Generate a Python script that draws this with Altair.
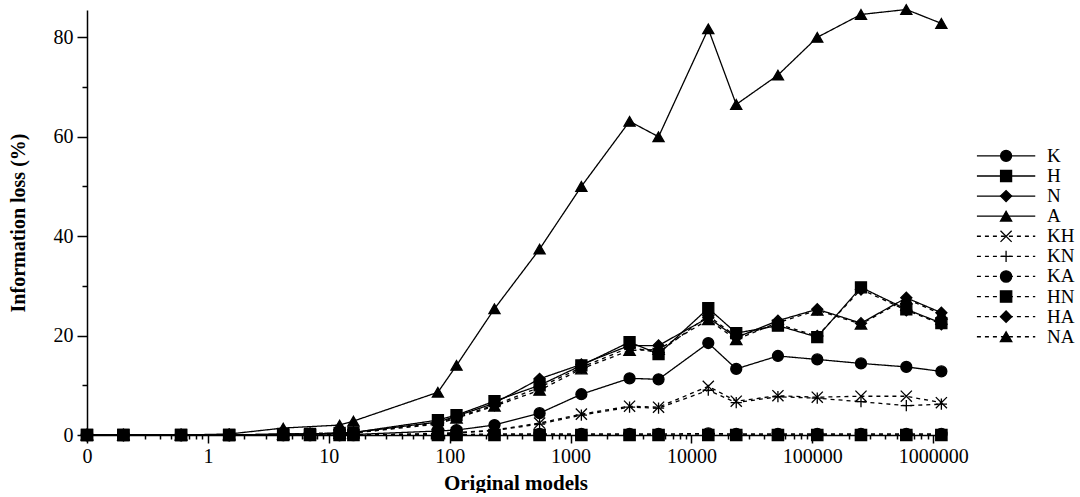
import altair as alt
import pandas as pd

# x positions (number of original models); first point is plotted at the "0" tick
models = [0.1, 0.2, 0.6, 1.5, 4.2, 7, 12.3, 16, 80, 114, 235, 555, 1230, 3080,
          5350, 13800, 23500, 52000, 110000, 253000, 600000, 1170000]

loss_K = [0, 0, 0, 0, 0, 0, 0, 0.1, 0.8, 1.0, 2.0, 4.4, 8.2, 11.4, 11.2, 18.5,
          13.3, 15.9, 15.2, 14.4, 13.7, 12.8]
loss_H = [0, 0, 0, 0, 0.2, 0.2, 0.4, 0.5, 3.0, 4.0, 6.8, 10.0, 14.0, 18.7, 16.3,
          25.5, 20.5, 22.0, 19.7, 29.7, 25.3, 22.5]
loss_N = [0, 0, 0, 0, 0.2, 0.2, 0.4, 0.5, 2.6, 3.8, 6.4, 11.3, 14.2, 18.0, 18.0,
          23.6, 19.6, 23.0, 25.3, 22.5, 27.6, 24.6]
loss_A = [0, 0, 0, 0.2, 1.4, None, 2.0, 2.8, 8.6, 14.0, 25.4, 37.4, 50.0, 63.1,
          60.0, 81.7, 66.5, 72.4, 80.0, 84.6, 85.6, 82.8]
loss_KH = [0, 0, 0, 0, 0, 0, 0, 0, 0.3, 0.5, 1.0, 2.4, 4.2, 5.8, 5.6, 9.8, 6.8,
           7.9, 7.6, 7.8, 7.8, 6.5]
loss_KN = [0, 0, 0, 0, 0, 0, 0, 0, 0.2, 0.4, 0.9, 2.2, 4.0, 5.6, 5.4, 9.0, 6.5,
           7.7, 7.4, 6.7, 5.9, 6.2]
loss_KA = [0, 0, 0, 0, 0, 0, 0, 0, 0.1, 0.1, 0.2, 0.2, 0.2, 0.2, 0.2, 0.3, 0.2,
           0.2, 0.2, 0.2, 0.2, 0.2]
loss_HN = [0, 0, 0, 0, 0, 0, 0, 0, 0, 0, 0, 0, 0, 0, 0, 0, 0, 0, 0, 0, 0, 0]
loss_HA = [0, 0, 0, 0, 0.1, 0.2, 0.3, 0.4, 2.4, 3.6, 6.0, 9.6, 13.6, 17.6, 16.6,
           24.0, 19.8, 22.3, 19.9, 29.3, 25.1, 22.3]
loss_NA = [0, 0, 0, 0, 0.1, 0.4, 0.3, 0.4, 2.2, 3.4, 5.8, 9.0, 13.3, 17.0, 17.2,
           23.2, 19.2, 22.6, 25.1, 22.3, 27.4, 24.3]

series_names = ["K", "H", "N", "A", "KH", "KN", "KA", "HN", "HA", "NA"]
series_values = [loss_K, loss_H, loss_N, loss_A, loss_KH, loss_KN, loss_KA,
                 loss_HN, loss_HA, loss_NA]

x_major = [0.1, 1, 10, 100, 1000, 10000, 100000, 1000000]
x_major_labels = ["0", "1", "10", "100", "1000", "10000", "100000", "1000000"]
y_ticks = [0, 10, 20, 30, 40, 50, 60, 70, 80]

X_PATH = "M-1,-1L1,1M-1,1L1,-1"
PLUS_PATH = "M-1,0L1,0M0,-1L0,1"
shapes = ["circle", "square", "diamond", "triangle-up", X_PATH, PLUS_PATH,
          "circle", "square", "diamond", "triangle-up"]
sizes = [120, 130, 130, 160, 100, 130, 120, 130, 130, 160]
leg_sizes = [80, 60, 60, 80, 60, 70, 80, 60, 60, 80]
dashes = [[1, 0]] * 4 + [[4, 4]] * 6

rows = []
for name, vals in zip(series_names, series_values):
    for m, v in zip(models, vals):
        if v is not None:
            rows.append({"series": name, "models": m, "loss": v})
df = pd.DataFrame(rows)

FONT = "Liberation Serif"

# x tick values: majors plus 2..9 minors
x_ticks = []
for d in range(-1, 7):
    for k in range(1, 10):
        v = float(f"{k}e{d}")
        if v <= 1.23e6:
            x_ticks.append(v)

major_test = "indexof([" + ",".join(repr(float(v)) for v in x_major) + "], datum.value) >= 0"
label_map = " : ".join(
    f"datum.value == {repr(float(v))} ? '{lab}'" for v, lab in zip(x_major, x_major_labels)
) + " : ''"

x_enc = alt.X(
    "models:Q",
    scale=alt.Scale(type="log", domain=[0.1, 1.23e6], nice=False),
    axis=alt.Axis(
        values=x_ticks,
        labelExpr=label_map,
        tickSize={"condition": {"test": major_test, "value": 8}, "value": 4},
        title="Original models",
        titleFontWeight="bold",
        titleFontSize=21,
        titlePadding=6,
        labelFontSize=20,
        labelPadding=3,
        labelFlush=False,
        labelOverlap=False,
        grid=False,
    ),
)
y_enc = alt.Y(
    "loss:Q",
    scale=alt.Scale(domain=[0, 85.5], nice=False),
    axis=alt.Axis(
        values=y_ticks,
        labelExpr="datum.value % 20 == 0 ? datum.label : ''",
        tickSize={"condition": {"test": "datum.value % 20 == 0", "value": 10}, "value": 5},
        title="Information loss (%)",
        titleFontWeight="bold",
        titleFontSize=20,
        titlePadding=25,
        labelFontSize=20,
        labelPadding=4,
        labelFlush=False,
        grid=False,
    ),
)

lines = alt.Chart(df).mark_line(color="black", strokeWidth=1.3).encode(
    x=x_enc,
    y=y_enc,
    detail="series:N",
    strokeDash=alt.StrokeDash("series:N", scale=alt.Scale(domain=series_names, range=dashes), legend=None),
)
points = alt.Chart(df).mark_point(filled=True, fill="black", stroke="black", strokeWidth=1.3, opacity=1).encode(
    x=x_enc,
    y=y_enc,
    shape=alt.Shape("series:N", scale=alt.Scale(domain=series_names, range=shapes), legend=None),
    size=alt.Size("series:N", scale=alt.Scale(domain=series_names, range=sizes), legend=None),
)
main = alt.layer(lines, points).properties(width=857, height=425)

# legend built as a small chart
leg_df = pd.DataFrame({
    "series": series_names,
    "idx": list(range(len(series_names))),
    "x0": [0.0] * len(series_names),
    "x1": [1.0] * len(series_names),
    "xm": [0.5] * len(series_names),
    "xl": [1.2] * len(series_names),
})
lx = alt.Scale(domain=[-0.05, 1.75], nice=False)
ly = alt.Scale(domain=[-7.26, 13.89], nice=False, reverse=True)
leg_base = alt.Chart(leg_df)
leg_rule = leg_base.mark_rule(color="black", strokeWidth=1.3).encode(
    x=alt.X("x0:Q", scale=lx, axis=None),
    x2="x1:Q",
    y=alt.Y("idx:Q", scale=ly, axis=None),
    strokeDash=alt.StrokeDash("series:N", scale=alt.Scale(domain=series_names, range=dashes), legend=None),
)
leg_pts = leg_base.mark_point(filled=True, fill="black", stroke="black", strokeWidth=1.3, opacity=1).encode(
    x=alt.X("xm:Q", scale=lx, axis=None),
    y=alt.Y("idx:Q", scale=ly, axis=None),
    shape=alt.Shape("series:N", scale=alt.Scale(domain=series_names, range=shapes), legend=None),
    size=alt.Size("series:N", scale=alt.Scale(domain=series_names, range=leg_sizes), legend=None),
)
leg_txt = leg_base.mark_text(align="left", baseline="middle", font=FONT, fontSize=19, color="black").encode(
    x=alt.X("xl:Q", scale=lx, axis=None),
    y=alt.Y("idx:Q", scale=ly, axis=None),
    text="series:N",
)
legend = alt.layer(leg_rule, leg_pts, leg_txt).properties(width=105, height=425)

chart = alt.hconcat(main, legend, spacing=5).properties(
    padding={"left": 8, "top": 2, "right": 0, "bottom": 0},
    background="white",
).configure_view(stroke=None).configure_axis(
    domainColor="black",
    domainWidth=1.5,
    tickColor="black",
    tickWidth=1.5,
    labelColor="black",
    titleColor="black",
    labelFont=FONT,
    titleFont=FONT,
).configure_text(font=FONT)

chart.save("out.html", embed_options={"renderer": "svg", "actions": False})
